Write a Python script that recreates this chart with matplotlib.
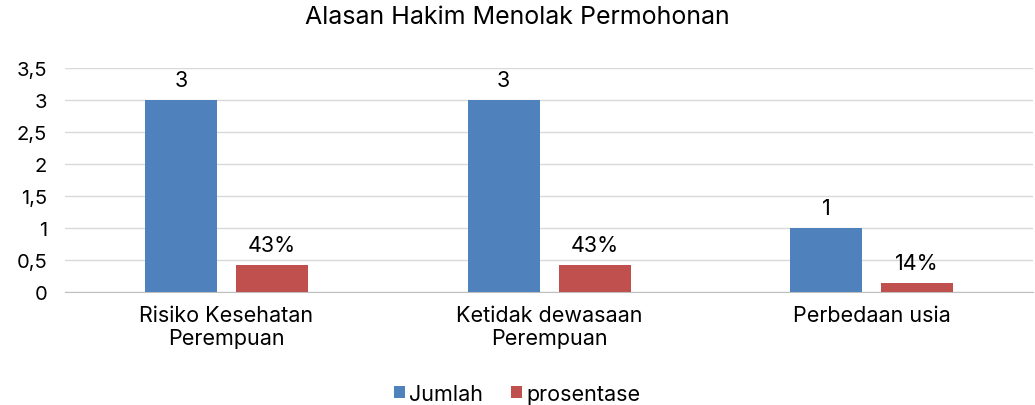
import matplotlib
matplotlib.use("Agg")
from matplotlib import pyplot as plt
import numpy as np

plt.rcParams['font.family'] = ['Inter', 'DejaVu Sans']

categories = ['Risiko Kesehatan\nPerempuan', 'Ketidak dewasaan\nPerempuan', 'Perbedaan usia']
jumlah = [3, 3, 1]
prosentase = [0.43, 0.43, 0.14]
jumlah_labels = ['3', '3', '1']
prosentase_labels = ['43%', '43%', '14%']
yticks = [0, 0.5, 1, 1.5, 2, 2.5, 3, 3.5]
ytick_labels = ['0', '0,5', '1', '1,5', '2', '2,5', '3', '3,5']

blue = '#4F81BD'
red = '#C0504D'

fig = plt.figure(figsize=(10.35, 4.06), dpi=100)
ax = fig.add_axes([0.063, 0.278, 0.935, 0.552])

x = np.arange(len(categories))
w = 0.223
b1 = ax.bar(x - 0.141, jumlah, w, color=blue, label='Jumlah', zorder=3)
b2 = ax.bar(x + 0.141, prosentase, w, color=red, label='prosentase', zorder=3)

for rect, lab in zip(b1, jumlah_labels):
    ax.annotate(lab, (rect.get_x() + rect.get_width() / 2, rect.get_height()),
                xytext=(0, 7), textcoords='offset points', ha='center', va='bottom', fontsize=15.5)
for rect, lab in zip(b2, prosentase_labels):
    ax.annotate(lab, (rect.get_x() + rect.get_width() / 2, rect.get_height()),
                xytext=(0, 7), textcoords='offset points', ha='center', va='bottom', fontsize=15.5)

ax.set_xlim(-0.5, 2.5)
ax.set_ylim(0, 3.5)
ax.set_yticks(yticks)
ax.set_yticklabels(ytick_labels, fontsize=14.5)
ax.set_xticks(x)
ax.set_xticklabels(categories, fontsize=15.5, linespacing=1.2)
ax.tick_params(axis='y', length=0, pad=13)
ax.tick_params(axis='x', length=0, pad=9)
ax.grid(axis='y', color='#D9D9D9', linewidth=1, zorder=0)
for s in ['top', 'right', 'left']:
    ax.spines[s].set_visible(False)
ax.spines['bottom'].set_color('#BFBFBF')

fig.suptitle('Alasan Hakim Menolak Permohonan', fontsize=18, y=0.985)
fig.legend(loc='lower center', ncol=2, frameon=False, fontsize=15.5,
           bbox_to_anchor=(0.5, -0.045), handlelength=0.5, handleheight=0.5,
           handletextpad=0.2, columnspacing=1.3)

fig.savefig('out.png', dpi=100)
